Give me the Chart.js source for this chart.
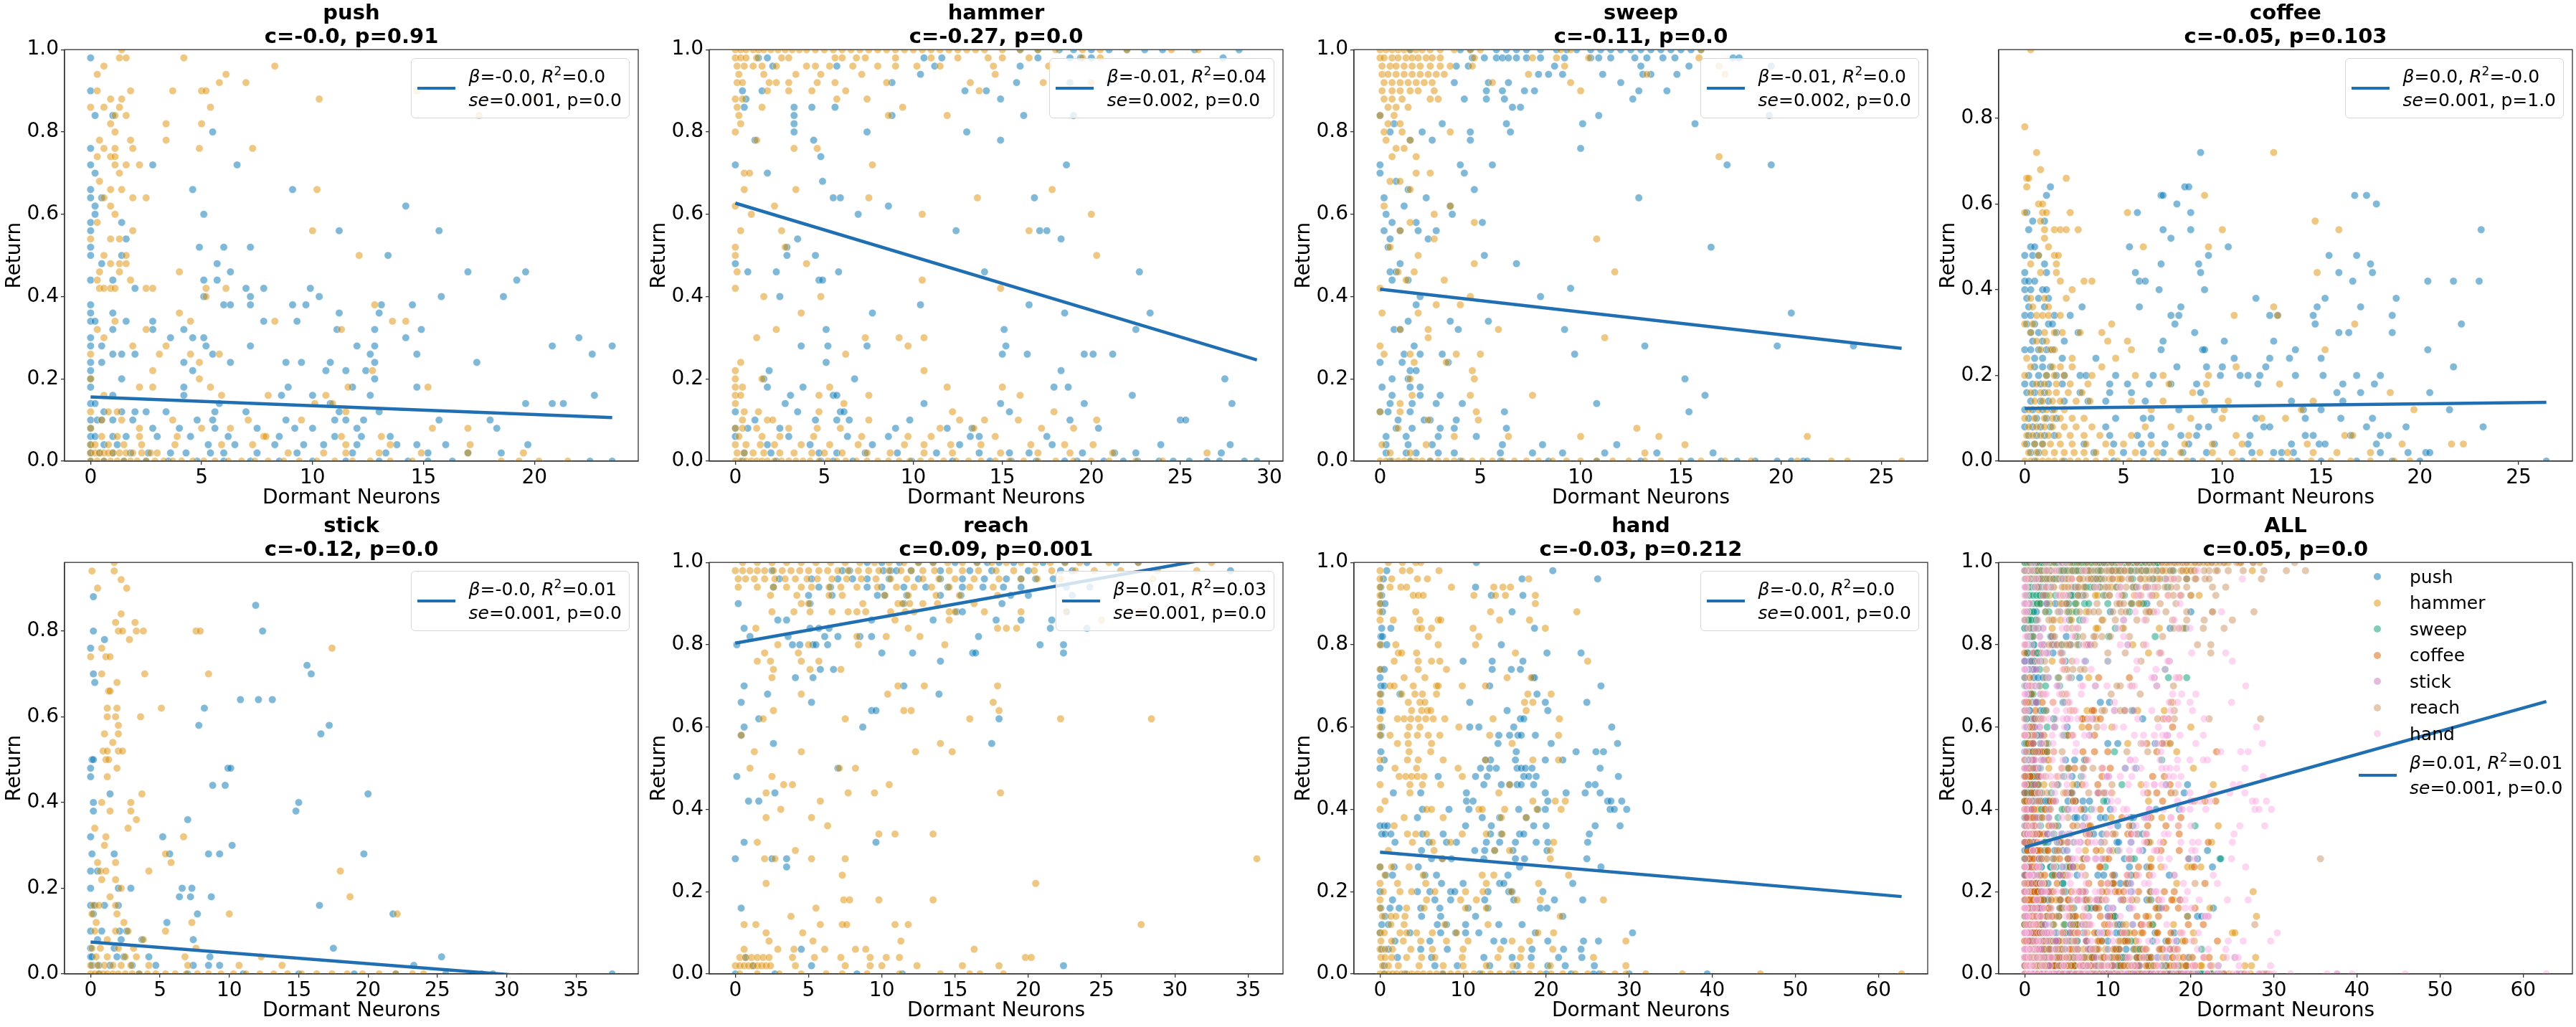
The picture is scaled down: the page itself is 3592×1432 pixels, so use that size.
<!DOCTYPE html>
<html>
<head>
<meta charset="utf-8">
<script src="https://cdn.jsdelivr.net/npm/chart.js@4.4.0/dist/chart.umd.min.js"></script>
<style>
  body { margin: 0; background: #fff; }
  #fig { position: relative; width: 3592px; height: 1432px; overflow: hidden; font-family: 'DejaVu Sans', sans-serif; }
  #fig canvas { position: absolute; }
  .lg { position: absolute; border: 1px solid #d6d6d6; border-radius: 6px; background: rgba(255,255,255,0.8);
        padding: 8px 10px 8px 8px; display: flex; align-items: center; font-size: 25px; line-height: 33px; color: #000; white-space: nowrap; }
  .sw { width: 53px; height: 4px; background: #1f6fb2; margin-right: 19px; }
  .lg sup, .all sup { font-size: 17px; line-height: 0; vertical-align: 10px; }
  .all { position: absolute; font-size: 25px; color: #000; white-space: nowrap; }
  .all .it { display: flex; align-items: center; height: 36.5px; }
  .all .hd { width: 54px; display: flex; justify-content: center; margin-right: 18px; }
  .all .dot { width: 10px; height: 10px; border-radius: 50%; }
  .all .st { display: flex; align-items: center; line-height: 35px; margin-top: 4px; }
</style>
</head>
<body>
<div id="fig"></div>
<script>
// rows: [return, dormant neurons, dormant neurons, ...]
const pushBlue = [
  [0.98, 0], [0.90, 0], [0.84, 0.2, 1.0], [0.80, 5.5], [0.76, 0], [0.72, 0, 2.8, 6.6], [0.70, 0.2],
  [0.66, 0, 4.6, 9.1], [0.64, 0, 0.5], [0.62, 0.2, 14.2], [0.60, 0.2, 5.1], [0.58, 0, 1.4],
  [0.56, 0, 11.2, 15.7], [0.54, 1.6], [0.52, 0, 4.9, 6.0, 7.2], [0.50, 0, 1.4, 13.4], [0.48, 0.5, 5.7],
  [0.46, 6.3, 17.0, 19.6], [0.44, 0, 1.0, 5.1, 5.7, 19.2], [0.42, 2.0, 7.0, 7.8, 9.9],
  [0.40, 5.1, 7.2, 10.3, 15.8, 18.6], [0.38, 0, 6.0, 6.3, 7.2, 9.1, 9.7, 13.1, 14.5],
  [0.36, 0, 1.0, 11.2, 13.0], [0.34, 0, 0.2, 1.6, 2.8, 7.8, 9.3], [0.32, 1.0, 2.8, 4.2, 11.1, 12.8, 14.9],
  [0.30, 0, 3.6, 4.6, 5.1, 14.2, 22.0], [0.28, 0, 0.5, 5.2, 7.2, 12.0, 12.8, 20.8, 23.5],
  [0.26, 1.0, 1.4, 2.0, 5.5, 12.6, 14.7, 22.6], [0.24, 0, 0.5, 4.2, 6.3, 8.8, 9.5, 10.8, 12.8, 17.4],
  [0.22, 0, 4.6, 10.6, 11.5, 12.4], [0.20, 0, 1.4, 12.8], [0.18, 0, 4.2, 8.9, 11.8, 14.7],
  [0.16, 1.0, 4.2, 8.6, 10.0, 12.6, 22.7], [0.14, 0, 0.2, 5.8, 10.8, 19.6, 20.8, 21.3],
  [0.12, 0.6, 1.4, 2.0, 2.5, 3.4, 5.6, 7.0, 11.2, 13.0],
  [0.10, 0, 0.3, 0.5, 1.0, 1.9, 4.8, 5.5, 8.8, 11.0, 11.5, 12.3, 15.7, 18.0],
  [0.08, 0, 2.8, 4.0, 5.6, 7.5, 9.2, 10.0, 12.0, 18.3],
  [0.06, 0, 0.2, 1.0, 1.6, 3.0, 4.5, 6.2, 8.5, 11.0, 12.2, 13.5],
  [0.04, 0, 0.6, 1.2, 5.3, 6.5, 8.3, 9.6, 10.5, 12.0, 13.8, 14.7, 16.0, 19.7],
  [0.02, 0, 0.4, 1.0, 1.8, 2.6, 3.6, 4.3, 5.4, 6.0, 7.5, 9.3, 11.8, 13.3, 15.2, 17.0, 18.5],
  [0.0, 0, 0.6, 1.5, 2.5, 3.5, 4.8, 6.0, 7.2, 8.5, 10.0, 11.5, 13.0, 14.3, 15.2, 16.3, 22.5, 23.5]
];
const pushOrange = [
  [1.0, 1.4], [0.98, 1.3, 1.6, 4.2], [0.96, 0.6, 8.3], [0.94, 0.3, 6.1], [0.92, 5.8, 7.0],
  [0.90, 0.3, 1.8, 3.7, 5.0, 5.2, 14.7], [0.88, 0.9, 1.4, 10.3, 20.0], [0.86, 0.0, 0.6, 1.3, 5.4],
  [0.84, 1.1, 1.6, 17.5], [0.82, 0.9, 3.4, 5.0], [0.80, 1.1], [0.78, 0.4, 1.8, 3.4],
  [0.76, 0.6, 1.1, 1.9, 4.9, 7.3], [0.74, 0.3, 0.9, 1.1], [0.72, 1.1, 1.6, 2.2], [0.70, 1.3], [0.68, 0.4],
  [0.66, 0.9, 1.4, 10.2], [0.64, 0.6, 1.9, 2.5], [0.62, 0.9], [0.60, 1.1], [0.58, 0.3], [0.56, 1.9, 10.0],
  [0.54, 0.0, 0.9, 1.3], [0.50, 0.6, 1.6, 12.1], [0.48, 0.9, 1.3, 1.6], [0.46, 0.4, 1.3, 4.0], [0.44, 0.3, 1.8],
  [0.42, 0.4, 0.6, 0.9, 1.1, 2.5, 2.8, 5.2, 6.1], [0.40, 5.2], [0.38, 12.8], [0.36, 4.0],
  [0.34, 1.1, 4.5, 8.3, 13.6, 14.2], [0.32, 0.3, 2.5, 11.3], [0.30, 0.6], [0.28, 1.9, 3.4],
  [0.26, 0.0, 3.1, 4.5, 5.8], [0.24, 4.9], [0.22, 2.8, 12.7], [0.20, 0.0, 4.9], [0.18, 2.2, 2.8, 5.4, 11.6, 15.2],
  [0.16, 0.6, 5.9, 8.0, 10.6], [0.14, 10.1, 10.9], [0.12, 0.0, 0.8, 1.2, 11.5], [0.10, 0.5, 1.4, 3.7, 7.1, 9.5],
  [0.08, 0.0, 2.2, 5.0, 6.3, 15.4, 17.0], [0.06, 0.5, 1.2, 2.2, 3.9, 7.8, 7.9, 11.3, 13.1],
  [0.04, 0.0, 0.2, 0.8, 1.5, 2.3, 3.8, 5.9, 7.3, 11.5, 13.5, 17.1],
  [0.02, 0.0, 0.2, 0.4, 0.6, 0.8, 1.0, 1.3, 1.6, 1.9, 2.3, 2.7, 3.0, 8.9, 10.5, 11.5, 13.0, 14.9, 17.0, 19.5],
  [0.0, 0, 0.3, 0.6, 0.9, 1.2, 1.5, 1.8, 2.1, 2.5, 2.9, 3.3, 3.7, 4.1, 4.6, 5.1, 5.6, 6.2, 6.8, 7.4, 8.0, 8.7, 9.4, 10.2, 11.0, 11.8, 12.6, 13.5, 14.5, 18.5, 19.3, 20.2, 21.5]
];
const hammerBlue = [
  [1.0, 16, 17, 18.2, 19, 20, 21, 22, 23, 24, 25.8, 28.3], [0.98, 1.3, 1.8, 10.6, 11.6, 17.0, 18.8, 19.4, 20.0, 27.4],
  [0.96, 2.1, 5.7, 11.2, 16.0], [0.94, 10.4], [0.92, 8.8, 15.8, 18.8, 21.0], [0.90, 0.4, 1.5, 12.9, 14.1],
  [0.88, 0.6, 14.9], [0.86, 0.5, 3.3, 4.3, 5.6], [0.84, 3.3, 8.8, 16.2, 19.0], [0.82, 3.3], [0.80, 3.3, 7.4, 13.0],
  [0.78, 1.1, 4.4, 14.9], [0.74, 4.8], [0.72, 0.0, 18.6], [0.70, 1.8], [0.68, 4.9], [0.64, 5.5, 5.9, 16.8],
  [0.62, 8.6], [0.60, 6.9], [0.56, 12.4, 17.1, 17.5], [0.54, 3.5, 18.3], [0.52, 2.9], [0.50, 2.9, 4.5], [0.48, 0.0],
  [0.46, 0.7, 2.3, 5.8, 14.0, 22.7], [0.44, 4.7, 4.9], [0.40, 2.5], [0.38, 10.4, 16.5], [0.36, 7.7, 18.5, 23.3],
  [0.32, 5.1, 15.1, 22.5], [0.28, 3.7, 5.2, 7.4, 15.2], [0.26, 15.0, 16.4, 19.6, 20.1, 21.2], [0.24, 5.1],
  [0.22, 1.9, 18.3], [0.20, 1.6, 6.7, 27.5], [0.18, 1.8, 3.8, 17.9, 18.7], [0.16, 3.1, 5.5, 5.7, 22.3],
  [0.14, 2.8, 10.6, 14.9, 19.6, 27.9], [0.12, 0.0, 3.5, 5.9, 6.1, 15.4], [0.10, 1.1, 4.5, 5.7, 6.4, 9.8, 18.8, 25.0, 25.3],
  [0.08, 0.0, 0.7, 2.5, 9.0, 11.9, 13.3, 20.4], [0.06, 0.0, 3.0, 6.3, 8.6, 13.2, 13.7, 17.5],
  [0.04, 1.8, 4.2, 7.7, 12.6, 17.8, 23.9, 27.8],
  [0.02, 0.5, 2.0, 4.7, 5.7, 7.3, 9.1, 11.3, 13.7, 15.4, 16.5, 19.5, 21.3, 22.5, 27.3],
  [0.0, 0.4, 2.3, 4.8, 5.5, 6.6, 9.9, 12.2, 14.3, 15.5, 16.9, 18.5, 19.2, 20.7, 21.8, 22.6, 23.8, 24.6, 25.5, 26.5, 27.2, 28.6, 29.3]
];
const hammerOrange = [
  [1.0, 0, 0.3, 0.6, 1, 1.3, 1.6, 2, 2.4, 2.8, 3.2, 3.6, 4, 4.5, 5, 5.5, 6, 6.5, 7, 7.5, 8, 8.5, 9, 9.5, 10, 10.5, 11, 11.5, 12, 12.5, 13, 13.5, 14, 15, 16, 17, 18, 19.5, 20.5, 22, 24.5, 26],
  [0.98, 0, 0.3, 0.6, 1.2, 2.6, 3, 5.6, 6, 6.8, 7.3, 9, 11, 12.5, 14.2, 15, 16.5, 19.5, 20.5],
  [0.96, 0.1, 0.5, 1, 1.5, 2.3, 4, 4.5, 5.3, 6.6, 8, 9, 10.2, 11.5, 14.5, 17.6],
  [0.94, 0.2, 1.6, 3.4, 4.8, 7.1, 14.6], [0.92, 0.1, 0.4, 1.9, 2.3, 3, 4.6, 5.6, 8.5, 13.2, 17.3, 20.0],
  [0.90, 1.8, 3.0, 4.3, 6.2, 13.7], [0.88, 0, 0.4, 5.7, 7.4], [0.86, 0.1, 1.5, 9.4], [0.84, 0.2, 8.6, 11.9],
  [0.82, 0.3], [0.80, 0.0], [0.78, 1.2], [0.76, 3.3, 4.6], [0.72, 7.7], [0.70, 0.5, 0.8], [0.66, 0.5, 3.4, 17.8],
  [0.64, 7.5, 13.6], [0.62, 0.0, 2.2], [0.60, 0.9, 10.5, 20.0], [0.56, 0.3, 2.6, 16.5], [0.52, 0.0, 2.8],
  [0.50, 0.0, 20.3], [0.48, 4.0], [0.46, 0.1], [0.44, 10.5], [0.42, 0.0, 14.9], [0.40, 1.6, 4.8], [0.36, 3.7],
  [0.32, 2.3], [0.30, 1.2, 7.3, 9.2, 10.6], [0.28, 9.7], [0.26, 6.2], [0.24, 0.3], [0.22, 0.0, 10.6], [0.20, 0.0, 1.5],
  [0.18, 0.0, 0.4, 5.3, 11.9, 15.0], [0.16, 0.0, 0.3, 4.7, 7.5, 16.0], [0.14, 0.0, 6.1], [0.12, 0.5, 1.3, 4.7, 12.2, 17.9],
  [0.10, 0.4, 1.8, 2.1, 7.5, 12.6, 14.0, 15.9, 20.3], [0.08, 0.0, 0.4, 1.2, 3.0, 4.6, 5.9, 11.5, 13.4, 17.2, 19.0],
  [0.06, 0.2, 1.5, 2.5, 4.4, 7.1, 9.7, 11.0, 14.6],
  [0.04, 0.0, 0.6, 1.4, 2.2, 3.7, 5.3, 6.9, 9.5, 10.6, 12.1, 13.8, 16.6, 18.5, 20.1],
  [0.02, 0.1, 0.5, 1.0, 1.6, 2.5, 3.3, 4.3, 5.0, 6.0, 7.4, 8.7, 10.6, 12.2, 14.9, 17.0, 18.8, 21.2, 26.5],
  [0.0, 0.0, 0.3, 0.6, 0.9, 1.2, 1.5, 1.8, 2.2, 2.6, 3.0, 3.4, 3.8, 4.2, 4.7, 5.2, 5.7, 6.2, 6.8, 7.4, 8.0, 8.6, 9.2, 9.8, 10.4, 11.0, 11.7, 12.4, 13.1, 13.8, 14.6, 15.4, 16.2, 17.0, 18.0, 19.0, 20.0, 21.0, 22.5, 24.0]
];
const sweepBlue = [
  [1.0, 1.5, 4.0, 4.5, 5.8, 6.3, 6.8, 7.3, 8.0, 8.8, 9.3, 9.8, 10.5, 11.0, 11.5, 12.0, 12.5, 13.0, 13.5, 14.0, 14.5, 15.0, 15.5, 16.0],
  [0.98, 4.6, 5.2, 5.8, 6.1, 6.4, 6.8, 7.3, 8.0, 9.2, 10.5, 10.9, 11.5, 12.7, 13.3, 14.1, 14.7, 17.6, 17.9],
  [0.96, 3.8, 4.4, 8.7, 13.0, 15.4, 19.5], [0.94, 7.9, 8.4, 9.1, 11.1, 13.1, 13.5, 14.8], [0.92, 3.7, 5.4, 6.4, 12.0],
  [0.90, 5.3, 6.1, 7.2, 7.7, 12.9, 14.3], [0.88, 4.2, 5.3, 6.2, 12.6], [0.86, 6.6, 7.0], [0.84, 0.0, 10.9, 19.4],
  [0.82, 0.7, 3.1, 6.3, 10.1, 15.7], [0.80, 0.5, 2.1, 4.5, 6.5], [0.78, 1.5, 2.6, 4.5], [0.76, 10.0],
  [0.72, 0.0, 4.0, 5.6, 17.3, 19.5], [0.70, 0.0, 4.2], [0.68, 0.8], [0.66, 1.4, 4.7], [0.64, 0.2, 2.3, 12.9],
  [0.62, 1.2, 3.5], [0.60, 0.3, 3.6], [0.58, 0.6, 1.8, 5.1], [0.56, 0.2, 1.0, 1.9, 2.8], [0.54, 0.5, 2.4],
  [0.52, 0.4, 16.5], [0.50, 5.2], [0.48, 1.0, 6.8], [0.46, 0.5, 0.8], [0.44, 0.6, 1.4], [0.42, 9.5], [0.40, 2.0, 8.0],
  [0.38, 1.8], [0.36, 20.5], [0.34, 1.4, 3.5, 5.4], [0.32, 0.7, 1.0, 3.9, 9.2], [0.28, 1.7, 13.2, 19.8, 23.6],
  [0.26, 1.2, 2.0, 3.1, 9.7], [0.24, 0.0, 1.1, 3.4], [0.22, 1.5, 1.8], [0.20, 0.6, 1.4, 15.2], [0.18, 0.1, 1.5, 2.0],
  [0.16, 0.6, 2.0, 3.0, 16.2], [0.14, 0.5, 1.6, 2.8, 4.1, 10.8], [0.12, 0.0, 0.4, 1.5, 6.2, 15.4],
  [0.10, 0.9, 2.2, 2.5, 3.8], [0.08, 0.8, 1.6, 3.0, 3.7, 6.3], [0.06, 0.3, 1.3, 2.9, 4.8],
  [0.04, 0.3, 1.4, 2.6, 6.1, 8.1, 11.8], [0.02, 0.3, 1.3, 1.8, 2.9, 3.7, 6.0, 7.6, 9.1, 11.2, 13.8, 16.6],
  [0.0, 0.5, 1.5, 2.5, 4.0, 6.0, 8.4, 10.8, 13.0, 15.5, 17.0, 17.8, 18.7, 19.8, 20.5, 21.1, 21.3]
];
const sweepOrange = [
  [1.0, 0, 0.3, 0.6, 0.9, 1.2, 1.5, 1.8, 2.1, 2.5, 3.0, 3.7, 4.5, 5.0, 9.0, 9.5, 16.0],
  [0.98, 0, 0.2, 0.6, 0.9, 1.3, 1.6, 1.9, 2.3, 2.6, 3.0, 4.7, 7.6, 8.8, 10.4, 15.9],
  [0.96, 0.1, 0.5, 0.8, 1.2, 1.6, 2.0, 2.5, 3.0, 3.5, 4.6, 9.2, 16.9],
  [0.94, 0.1, 0.4, 0.8, 1.2, 1.6, 2.0, 2.4, 2.8, 3.2, 7.4, 13.3, 17.2],
  [0.92, 0.2, 0.6, 1.0, 1.4, 1.8, 2.2, 2.6, 5.6, 9.5], [0.90, 0.1, 0.6, 1.0, 1.5, 1.9, 2.7, 10.0],
  [0.88, 0.2, 0.6, 1.1, 2.5, 2.9], [0.86, 0.4, 0.8, 1.4], [0.84, 0.0, 0.7], [0.82, 0.4, 1.0], [0.80, 0.2, 1.1, 3.5],
  [0.78, 0.3, 1.5], [0.76, 0.8, 1.2], [0.74, 0.6, 1.8, 16.9], [0.70, 1.8, 2.5], [0.68, 0.5, 1.0], [0.66, 1.5],
  [0.62, 0.2, 3.5], [0.60, 2.7], [0.58, 1.5, 4.7], [0.56, 1.0], [0.54, 2.7, 10.8], [0.52, 0.5], [0.50, 1.9],
  [0.48, 4.7], [0.46, 0.9, 1.7, 11.7], [0.44, 1.3, 3.2], [0.42, 0.0], [0.40, 4.5], [0.38, 2.8, 4.0], [0.36, 0.1, 1.9],
  [0.32, 1.0, 2.4, 5.9], [0.30, 2.4, 11.2], [0.28, 0.0], [0.26, 0.2, 1.5, 3.8, 5.0], [0.24, 1.7, 3.3], [0.22, 4.6],
  [0.20, 1.5, 4.7], [0.16, 1.6, 4.5, 7.6], [0.14, 1.0], [0.12, 0.0, 1.0, 4.8], [0.10, 2.4, 4.9], [0.08, 0.9, 12.8],
  [0.06, 3.7, 6.4, 10.0, 13.9, 21.3], [0.04, 0.1, 2.3, 15.2], [0.02, 0.5, 1.5, 13.2],
  [0.0, 0, 0.3, 0.6, 0.9, 1.2, 1.5, 1.8, 2.1, 2.5, 2.9, 3.3, 3.7, 4.1, 4.6, 5.1, 5.6, 6.1, 6.7, 7.3, 7.9, 8.6, 9.3, 10.0, 10.8, 11.6, 12.4, 13.2, 14.0, 15.0, 16.0, 17.2, 18.5, 20.8, 22.5, 23.3, 26.0]
];
const coffeeBlue = [
  [0.72, 8.9], [0.64, 1.3, 8.1, 8.3], [0.62, 1.1, 6.9, 7.0, 16.7, 17.3], [0.60, 7.7, 17.8], [0.58, 0.1, 5.7, 8.4],
  [0.56, 0.4, 1.0], [0.54, 0.2, 7.0, 8.4, 23.1], [0.52, 7.4], [0.50, 0.3, 0.5, 5.3, 10.3],
  [0.48, 0.0, 0.4, 0.7, 9.3, 15.4, 16.8], [0.46, 1.0, 6.9, 8.8, 17.5], [0.44, 0.0, 1.1, 5.6, 8.9, 15.9, 17.6],
  [0.42, 0.0, 0.2, 0.5, 5.8, 6.1, 16.6, 20.4, 21.7, 23.0], [0.40, 0.0, 0.3, 0.9, 1.1, 6.8, 9.1],
  [0.38, 0.1, 0.7, 1.2, 11.7, 15.2, 18.8], [0.36, 0.2, 1.0, 2.9, 5.8, 7.9, 14.8, 17.0],
  [0.34, 0.0, 0.3, 1.5, 2.3, 7.4, 7.8, 12.4, 12.8, 14.6, 18.6], [0.32, 0.1, 0.5, 1.2, 1.4, 7.6, 14.7, 22.1],
  [0.30, 0.3, 0.7, 1.6, 2.7, 8.6, 15.9, 16.4, 18.6], [0.28, 0.4, 0.9, 2.0, 7.0, 10.1, 12.6],
  [0.26, 0.0, 0.3, 0.7, 1.1, 1.4, 6.9, 9.0, 9.1, 13.7, 20.4], [0.24, 0.5, 0.9, 1.9, 3.6, 10.6, 12.4, 13.4, 15.0],
  [0.22, 0.5, 0.9, 1.3, 7.7, 9.2, 10.0, 12.2, 21.7],
  [0.20, 0.2, 0.7, 1.1, 1.6, 2.0, 2.8, 3.1, 4.6, 6.5, 9.9, 10.9, 11.3, 11.9, 13.7, 15.1, 16.8, 18.0],
  [0.18, 0.0, 0.4, 0.8, 1.2, 1.9, 4.3, 5.2, 6.3, 7.4, 8.7, 11.8, 16.1, 17.7],
  [0.16, 0.1, 0.5, 1.0, 2.8, 4.3, 5.4, 8.9, 15.8, 17.0, 20.5], [0.14, 0.3, 0.8, 1.2, 2.0, 3.2, 4.1, 6.1, 13.5, 16.1],
  [0.12, 0.0, 0.4, 0.9, 1.4, 7.8, 9.6, 14.1, 15.0, 21.5], [0.10, 0.2, 0.6, 1.1, 1.6, 4.6, 6.0, 6.4, 11.7, 14.2, 16.0, 17.6],
  [0.08, 0.0, 0.4, 0.8, 1.3, 4.1, 8.8, 9.3, 12.1, 12.4, 17.3, 19.3, 23.2],
  [0.06, 0.2, 0.6, 1.0, 1.5, 4.3, 5.7, 6.4, 7.9, 8.7, 11.4, 14.2, 14.6, 16.5, 18.0, 18.4],
  [0.04, 0.1, 0.5, 0.9, 3.0, 4.5, 5.9, 7.1, 8.3, 9.6, 11.3, 13.5, 14.9, 15.2, 17.8],
  [0.02, 0.3, 0.7, 3.5, 5.0, 6.0, 7.0, 8.0, 9.2, 11.5, 12.6, 13.0, 13.6, 18.0, 19.4, 20.3, 20.5],
  [0.0, 0.5, 2.0, 4.5, 6.5, 8.5, 11.0, 13.0, 13.8, 15.0, 16.8, 18.6, 20.0, 26.4]
];
const coffeeOrange = [
  [0.96, 0.3], [0.78, 0.0], [0.72, 0.6, 12.6], [0.68, 0.8], [0.66, 0.1, 0.2, 2.1], [0.64, 0.1], [0.62, 9.1],
  [0.60, 0.7, 0.9], [0.58, 0.0, 0.9, 1.1, 2.3, 5.2], [0.56, 0.8, 14.7], [0.54, 1.0, 1.5, 1.8, 2.1, 2.7, 10.0, 15.9],
  [0.52, 1.0], [0.50, 1.2, 6.0, 9.3], [0.48, 0.7, 1.5, 1.7], [0.46, 0.3, 1.6], [0.44, 0.8, 1.6, 14.8],
  [0.42, 1.8, 3.0, 3.4], [0.40, 2.4], [0.38, 0.3, 1.0, 2.1], [0.36, 0.4, 1.2, 12.6], [0.34, 0.6, 0.9, 1.2, 1.8, 10.6, 12.8],
  [0.32, 0.0, 0.4, 4.4, 16.7], [0.30, 0.3, 1.0, 1.5, 1.9, 2.8, 3.9], [0.28, 0.6, 1.1, 4.2, 5.2],
  [0.26, 0.8, 1.3, 1.5, 5.4, 15.2], [0.24, 0.1, 2.4, 4.6], [0.22, 0.3, 1.4, 1.8, 2.4, 3.9, 10.7],
  [0.20, 0.0, 1.1, 1.5, 2.0, 3.4, 5.6, 7.0, 9.3], [0.18, 0.6, 1.0, 1.6, 2.3, 3.2, 7.3, 9.2, 12.9],
  [0.16, 0.3, 0.8, 1.2, 1.6, 2.2, 2.9, 8.5, 18.5], [0.14, 0.5, 0.9, 1.4, 1.8, 2.6, 3.3, 5.4, 7.0, 9.1, 10.3, 14.6],
  [0.12, 0.2, 0.7, 1.1, 1.5, 2.0, 6.4, 10.1, 14.0, 19.7], [0.10, 0.0, 0.5, 1.0, 1.4, 1.8, 2.4, 3.0, 8.4, 10.0, 12.0, 13.2],
  [0.08, 0.2, 0.6, 1.0, 1.4, 2.0, 2.6, 3.4, 6.1, 7.4],
  [0.06, 0.1, 0.4, 0.8, 1.2, 1.7, 2.3, 3.0, 3.8, 5.4, 8.3, 10.7, 16.2, 16.6],
  [0.04, 0.0, 0.5, 0.9, 1.3, 1.8, 2.4, 3.1, 4.1, 5.0, 6.4, 8.1, 9.5, 11.0, 14.3, 19.1, 21.6, 22.2],
  [0.02, 0.2, 0.6, 1.0, 1.5, 2.0, 2.5, 3.0, 3.6, 4.4, 5.6, 6.7, 7.9, 9.5, 10.5, 11.9, 13.3, 14.6, 15.8, 17.5],
  [0.0, 0, 0.3, 0.6, 0.9, 1.2, 1.5, 1.9, 2.3, 2.7, 3.1, 3.6, 4.1, 4.7, 5.3, 6.0, 6.7, 7.4, 8.2, 9.0, 9.8, 10.7, 11.6, 12.5, 13.5, 14.5, 15.5, 16.5, 17.5, 18.7, 19.5]
];
const stickBlue = [
  [0.88, 0.2], [0.86, 11.9], [0.80, 0.2, 12.4], [0.78, 1.0], [0.76, 0.0], [0.72, 15.6], [0.70, 0.2, 15.9], [0.68, 0.3],
  [0.64, 10.8, 12.1, 13.1], [0.62, 8.2], [0.58, 7.8, 17.2], [0.56, 16.6], [0.50, 0.1, 0.2], [0.48, 0.0, 9.9, 10.1],
  [0.46, 0.0], [0.44, 8.8, 9.7], [0.42, 1.4, 20.0], [0.40, 0.2, 15.0], [0.38, 0.2, 14.8], [0.36, 7.0], [0.32, 0.0, 5.2],
  [0.30, 10.2], [0.28, 0.1, 1.7, 5.7, 8.5, 9.3, 19.7], [0.24, 0.0, 0.5], [0.20, 0.0, 2.0, 2.9, 6.6, 7.3],
  [0.18, 6.4, 7.2, 8.7], [0.16, 0.0, 0.3, 1.0, 2.0, 16.5], [0.14, 0.2, 7.7, 21.8], [0.12, 5.5], [0.10, 0.0, 0.8, 2.1, 2.6],
  [0.08, 0.5, 2.2, 3.7, 7.4], [0.06, 0.0, 1.7, 17.5], [0.04, 0.0, 0.1, 1.9, 2.4, 4.2, 8.6, 25.3],
  [0.02, 0.1, 0.6, 1.4, 3.0, 4.7, 7.4, 8.5, 9.3, 23.3], [0.0, 0.6, 3.5, 7.0, 11.0, 15.0, 19.0, 22.0, 25.6, 28.2, 29.0, 37.6]
];
const stickOrange = [
  [0.96, 1.7], [0.94, 0.1, 1.7], [0.92, 2.2], [0.90, 0.5, 2.6], [0.84, 2.2], [0.82, 1.8, 3.2],
  [0.80, 2.0, 2.3, 3.3, 3.8, 7.6, 7.9], [0.78, 2.8], [0.76, 0.8, 17.4], [0.74, 0.0, 1.1, 1.4], [0.70, 0.8, 3.9, 8.5],
  [0.68, 1.9], [0.66, 1.3, 1.4], [0.62, 1.2, 1.9, 5.1], [0.60, 1.2, 1.8, 3.6], [0.58, 2.0], [0.56, 1.0, 2.0], [0.54, 1.6],
  [0.52, 0.9, 1.2, 2.0, 2.3], [0.50, 1.1, 1.3], [0.48, 1.9], [0.46, 1.2], [0.42, 3.7], [0.40, 0.8, 2.9], [0.38, 1.4, 2.9],
  [0.36, 3.3], [0.34, 0.3, 2.7], [0.32, 1.1, 6.7], [0.30, 1.0], [0.28, 5.4], [0.26, 0.5, 1.8, 5.8],
  [0.24, 0.7, 1.1, 4.2, 18.0], [0.22, 0.8, 1.8], [0.20, 2.2], [0.18, 1.4, 18.7], [0.16, 0.2, 0.6, 1.8],
  [0.14, 0.1, 1.9, 10.0, 22.1], [0.12, 0.4, 2.4, 7.3], [0.10, 0.3, 1.8, 2.7, 5.4], [0.08, 1.2, 3.8],
  [0.06, 0.1, 0.7, 2.0, 3.1, 7.6], [0.04, 0.4, 1.2, 2.5, 3.3, 6.8, 12.3],
  [0.02, 0.0, 0.5, 1.0, 1.6, 2.2, 2.9, 4.2, 7.0, 10.7, 13.8],
  [0.0, 0, 0.3, 0.6, 0.9, 1.2, 1.6, 2.0, 2.5, 3.0, 3.5, 4.1, 4.7, 5.4, 6.1, 6.9, 7.7, 8.5, 9.4, 10.3, 11.2, 12.2, 13.2, 14.2, 15.2, 16.3, 17.4, 18.5, 19.6, 20.8, 22.0, 23.2, 24.0]
];
const reachBlue = [
  [1.0, 9.0, 10.0, 11.2, 12.5, 13.5, 15.0, 16.5, 17.2, 18.0, 19.0, 21.0, 22.5, 24.0, 26.0, 27.5],
  [0.98, 2.5, 7.3, 7.8, 10.1, 10.6, 11.0, 12.0, 14.0, 16.0, 17.5, 20.0, 22.2, 23.0, 33.8],
  [0.96, 3.0, 5.2, 7.0, 8.0, 9.0, 10.5, 12.5, 14.0, 15.5, 17.0, 18.5, 19.5, 20.5, 21.7],
  [0.94, 2.6, 5.7, 6.5, 9.0, 10.0, 11.5, 13.0, 14.5, 15.5, 16.9, 18.3, 19.5, 22.6, 24.2],
  [0.92, 5.0, 6.6, 9.7, 10.2, 11.7, 14.0, 15.4, 18.8, 20.0, 23.0], [0.90, 0.2, 5.1, 11.5, 18.2], [0.88, 15.1, 15.5, 22.6],
  [0.86, 2.9, 3.5, 9.3, 13.5, 17.8, 19.5, 21.6], [0.84, 0.6, 5.1, 5.7, 6.4, 21.5, 24.0],
  [0.82, 1.0, 3.6, 6.1, 7.0, 8.5, 9.3, 16.6], [0.80, 0.1, 3.9, 4.4, 5.3, 5.5, 6.3, 20.8, 22.4],
  [0.78, 10.0, 12.1, 16.2, 16.4, 22.4], [0.76, 14.0], [0.74, 5.8, 6.7], [0.72, 4.1, 5.3], [0.70, 0.6, 11.5],
  [0.68, 2.2, 13.9], [0.66, 0.4, 5.2], [0.64, 9.3, 9.6], [0.62, 1.6, 18.0], [0.60, 0.6, 8.7], [0.58, 0.4],
  [0.56, 2.6, 17.5], [0.50, 7.0], [0.48, 0.1], [0.44, 2.7], [0.42, 0.9, 1.6], [0.32, 0.6, 9.6], [0.28, 0.0, 2.5, 3.5],
  [0.26, 3.5], [0.16, 0.4], [0.06, 4.5], [0.04, 0.7], [0.02, 1.2, 5.2, 22.4], [0.0, 0.0, 2.7, 8.3, 11.4]
];
const reachOrange = [
  [1.0, 0.5, 1.5, 2.5, 3.5, 4.5, 5.5, 6.5, 7.5, 8.5, 9.5, 10.5, 11.5, 12.5, 13.5, 14.5, 15.5, 16.5, 17.5, 18.5, 19.5, 20.5, 21.5, 22.5, 23.5, 25.5, 27.5, 32.5],
  [0.98, 0.0, 0.5, 1.0, 1.5, 2.0, 2.6, 3.2, 3.8, 4.4, 5.0, 5.7, 6.3, 7.0, 7.7, 8.4, 9.1, 9.8, 10.5, 11.3, 12.0, 12.8, 13.6, 14.6, 15.5, 16.6, 17.8, 19.0, 20.4, 21.6, 23.2, 24.5, 26.3, 28.8, 31.5],
  [0.96, 0.2, 0.7, 1.3, 2.0, 2.7, 3.4, 4.1, 4.9, 5.6, 6.6, 7.6, 8.6, 9.6, 10.6, 11.7, 12.8, 13.9, 15.0, 16.3, 18.0, 19.5, 20.6, 22.2, 28.5],
  [0.94, 0.2, 1.5, 2.6, 3.5, 4.5, 5.2, 6.4, 7.2, 8.3, 9.7, 11.0, 12.2, 13.4, 14.6, 16.0, 17.6],
  [0.92, 2.4, 4.2, 6.4, 7.3, 10.2, 11.8, 13.7, 15.3, 17.9], [0.90, 4.5, 5.0, 8.7, 11.1, 11.4, 11.9, 12.8, 13.8, 16.3],
  [0.88, 2.5, 4.0, 5.1, 6.6, 7.7, 8.3, 8.9, 10.6, 11.6, 12.2, 14.6, 15.0, 17.0, 19.5, 22.6, 27.6],
  [0.86, 10.9, 14.6, 25.0], [0.84, 1.4, 11.8, 17.9, 18.5, 19.2], [0.82, 8.3, 10.3, 12.6], [0.80, 2.9, 5.0, 8.4, 14.3],
  [0.78, 2.0, 4.3], [0.76, 1.5, 2.4, 4.5, 5.7], [0.74, 2.6, 5.1, 7.2], [0.72, 2.5], [0.70, 11.1, 12.9, 17.9],
  [0.68, 4.5, 10.4], [0.66, 17.6], [0.64, 2.6, 11.5, 12.0, 18.0], [0.62, 1.9, 7.5, 16.0, 22.2, 28.4], [0.58, 0.4],
  [0.56, 14.0], [0.54, 1.3, 4.5, 12.3, 14.8], [0.50, 1.0, 7.1, 8.2], [0.48, 2.5], [0.46, 3.3, 3.9, 10.5],
  [0.44, 2.1, 7.7, 9.5, 18.1], [0.42, 5.8], [0.40, 3.1], [0.38, 2.1, 5.2], [0.36, 6.3], [0.34, 9.8, 10.9, 13.5],
  [0.32, 1.5], [0.30, 4.1], [0.28, 2.0, 2.7, 5.2, 7.5, 35.6], [0.24, 7.3], [0.22, 2.1, 20.5], [0.18, 7.4, 7.8, 9.8, 13.5],
  [0.16, 5.5], [0.14, 3.8], [0.12, 0.6, 1.4, 5.8, 7.3, 7.6, 10.9, 11.8, 27.7], [0.10, 2.1, 4.6], [0.08, 2.3, 5.3, 11.3],
  [0.06, 0.6, 2.9, 4.0, 6.1, 8.2, 8.9, 16.3], [0.04, 0.3, 0.7, 1.1, 1.5, 1.9, 2.3, 3.9, 5.4, 7.2, 9.2, 10.3, 11.2, 19.8, 20.2],
  [0.02, 0.0, 0.3, 0.6, 0.9, 1.2, 1.5, 1.8, 2.1, 2.4, 4.1, 7.5, 9.2, 10.0, 12.4, 15.5, 18.0],
  [0.0, 0.3, 1.5, 3.0, 4.5, 6.2, 7.3, 9.0, 11.2, 14.0, 16.0, 16.7, 18.3]
];
const handBlue = [
  [1.0, 11.6], [0.98, 0.8, 20.8], [0.96, 0.4, 17.1, 26.2], [0.94, 0.1, 11.5], [0.92, 0.2, 13.4, 17.2], [0.90, 0.1, 0.6],
  [0.88, 0.3, 15.9], [0.84, 0.2, 1.3, 18.6], [0.82, 0.1, 0.3], [0.80, 0.1, 0.8, 14.6], [0.78, 20.1, 24.2],
  [0.76, 10.0, 13.5, 17.2], [0.74, 0.1, 0.5, 13.5, 15.8, 16.9], [0.72, 0.0, 18.4, 18.6], [0.70, 0.1, 0.5, 13.2, 26.6],
  [0.68, 0.1, 2.4, 18.9], [0.66, 10.8, 19.9, 24.9], [0.64, 0.0, 0.3, 15.3, 20.2], [0.62, 16.9, 17.3],
  [0.60, 0.2, 10.8, 11.9, 16.1, 27.9], [0.58, 0.1, 14.3, 15.6, 16.6, 17.0, 18.7], [0.56, 14.2, 20.6, 28.6],
  [0.54, 0.1, 16.4, 23.6, 26.0, 26.9], [0.52, 0.5, 12.7, 13.3, 16.3, 19.9, 22.0],
  [0.50, 0.0, 12.1, 13.2, 14.0, 16.5, 17.0, 17.5, 18.3, 26.5], [0.48, 7.0, 11.5, 12.9, 17.3, 17.9, 18.8, 28.7],
  [0.46, 12.5, 14.6, 15.6, 16.5, 17.0, 18.5, 25.1, 25.9], [0.44, 1.6, 4.9, 10.4, 19.9, 22.4, 24.7, 26.5],
  [0.42, 10.4, 11.2, 20.2, 27.4, 27.8, 29.1], [0.40, 5.1, 8.3, 10.7, 16.7, 19.0, 19.9, 27.7, 28.2, 29.7],
  [0.38, 4.5, 12.3, 14.4, 17.6], [0.36, 0.0, 0.5, 0.9, 10.3, 13.4, 18.5, 20.0, 25.9, 28.9],
  [0.34, 0.2, 0.6, 1.3, 5.1, 7.6, 13.3, 14.6, 16.8, 17.3, 25.2], [0.32, 1.8, 5.9, 8.0, 9.2, 12.8, 14.4, 16.3, 18.8, 20.2, 25.0],
  [0.30, 5.0, 11.4, 12.6, 13.8, 16.0, 20.1], [0.28, 6.2, 7.5, 8.6, 12.5, 16.3, 17.4, 24.9], [0.26, 0.0, 1.7, 4.6, 16.8, 26.6],
  [0.24, 0.7, 1.5, 5.4, 6.8, 15.4], [0.22, 7.4, 10.0, 14.4, 14.9, 23.2], [0.20, 0.0, 4.5, 6.0, 8.5, 9.0, 13.0, 15.5, 15.9, 19.6],
  [0.18, 1.5, 6.6, 8.5, 12.6, 16.1, 21.0, 24.4], [0.16, 0.1, 1.2, 2.3, 4.9, 7.2, 10.6, 13.0, 19.3, 20.1],
  [0.14, 0.6, 5.0, 7.3, 11.5, 22.0], [0.12, 0.2, 1.0, 6.9, 8.0, 10.3, 14.3, 17.1], [0.10, 0.0, 3.6, 7.3, 9.1, 10.3, 11.9, 18.7, 30.4],
  [0.08, 1.8, 6.0, 13.7, 14.9, 20.2, 24.5, 26.3], [0.06, 0.2, 1.0, 4.9, 8.1, 18.3, 22.1, 24.2],
  [0.04, 2.1, 6.2, 12.5, 15.9, 18.2, 21.5, 24.3], [0.02, 0.5, 6.6, 9.3, 13.2, 16.5, 20.2, 22.3, 25.8],
  [0.0, 0.5, 3.0, 7.5, 12.0, 16.0, 20.0, 23.0, 25.7, 26.4, 30.0, 39.4]
];
const handOrange = [
  [1.0, 1.0, 2.7, 4.3, 4.9], [0.98, 0.0, 2.7, 3.6, 7.1], [0.96, 0.0, 1.4, 4.5, 5.7, 17.9],
  [0.94, 0.0, 1.2, 2.5, 3.2, 8.6, 13.7, 14.8, 15.7], [0.92, 0.0, 4.0, 4.6, 5.2, 11.3, 13.9, 15.1, 18.7], [0.90, 0.0, 18.7],
  [0.88, 0.0, 4.3, 13.3, 23.7], [0.86, 0.0, 1.6, 4.8, 7.0, 7.3, 14.4, 18.0], [0.84, 4.5, 5.0, 6.2, 11.2, 19.9],
  [0.82, 5.8, 11.9], [0.80, 0.0, 1.9, 7.0, 11.5], [0.78, 2.2, 2.6, 4.4, 16.3], [0.76, 1.7, 4.6, 6.2, 7.2, 25.0],
  [0.74, 0.0, 4.6, 8.0], [0.72, 2.9, 5.4, 15.3, 18.2], [0.70, 1.2, 1.7, 4.0, 6.8, 7.0, 9.9, 12.7],
  [0.68, 0.0, 2.6, 4.2, 5.1, 6.8, 17.8, 20.6], [0.66, 0.0, 3.4, 4.8, 5.4, 17.4, 18.4], [0.64, 3.8, 5.0, 5.7, 6.1, 17.6],
  [0.62, 0.0, 2.1, 2.9, 3.7, 4.6, 5.5, 6.4, 7.8, 13.6, 21.6], [0.60, 0.0, 3.5, 4.8, 9.5],
  [0.58, 0.0, 1.2, 3.3, 4.5, 5.8, 7.2, 13.2, 21.5], [0.56, 2.1, 3.4, 6.2, 15.9], [0.54, 3.5, 6.1],
  [0.52, 0.0, 3.3, 4.6, 7.6, 12.7, 18.4, 21.5], [0.50, 1.8, 4.4, 9.4], [0.48, 2.3, 3.1, 3.8, 4.5, 5.3, 9.9],
  [0.46, 0.0, 3.6, 5.1, 7.3, 15.6], [0.44, 3.6, 14.3], [0.42, 0.6, 18.4, 21.1, 22.3],
  [0.40, 0.0, 5.6, 6.2, 11.9, 12.3, 15.0, 18.9, 21.8], [0.38, 2.9, 7.6, 14.6, 17.6], [0.36, 1.7],
  [0.34, 3.3, 4.3, 5.6, 9.9, 12.8, 14.7], [0.32, 3.9, 6.3, 8.5, 20.9], [0.30, 1.0, 6.5, 13.8, 15.6, 20.5], [0.28, 7.5, 20.5],
  [0.26, 0.0, 1.4, 3.5], [0.24, 0.6, 5.2, 12.3, 13.7, 22.7], [0.22, 0.0, 2.1, 5.5, 12.8, 19.1],
  [0.20, 0.4, 2.4, 3.8, 6.6, 10.3, 12.4, 15.8], [0.18, 0.0, 5.6, 9.7, 11.6, 16.5, 19.3, 26.9], [0.16, 0.0, 3.2, 5.3, 10.3, 12.8],
  [0.14, 0.3, 1.3, 1.9, 3.0, 21.7], [0.12, 1.3, 2.9, 7.8, 13.0], [0.10, 0.0, 0.5, 2.4, 3.2, 4.4, 6.3, 9.2, 19.0, 20.9],
  [0.08, 0.1, 1.4, 2.8, 4.9, 8.0, 10.6, 15.9, 18.0, 29.6], [0.06, 0.0, 0.6, 1.5, 3.7, 6.3, 10.0, 14.5, 17.0, 20.8],
  [0.04, 0.1, 0.6, 1.4, 3.2, 5.0, 6.6, 9.9, 14.2, 16.9, 25.7], [0.02, 0.3, 1.0, 2.2, 4.7, 7.6, 10.0, 12.8, 16.0, 18.2, 20.5, 29.6],
  [0.0, 0, 0.5, 1, 1.5, 2, 2.6, 3.2, 3.8, 4.5, 5.2, 6, 6.8, 7.6, 8.5, 9.4, 10.3, 11.3, 12.3, 13.3, 14.4, 15.5, 16.7, 18, 19.3, 20.6, 22, 23.5, 25, 26.8, 28.3, 29.6, 32.0, 36.4, 45.8, 62.8]
];

const tasks = ['push', 'hammer', 'sweep', 'coffee', 'stick', 'reach', 'hand'];
const blueRows = [pushBlue, hammerBlue, sweepBlue, coffeeBlue, stickBlue, reachBlue, handBlue];
const orangeRows = [pushOrange, hammerOrange, sweepOrange, coffeeOrange, stickOrange, reachOrange, handOrange];
const titles = ['push', 'hammer', 'sweep', 'coffee', 'stick', 'reach', 'hand', 'ALL'];
const corrC = ['-0.0', '-0.27', '-0.11', '-0.05', '-0.12', '0.09', '-0.03', '0.05'];
const corrP = ['0.91', '0.0', '0.0', '0.103', '0.0', '0.001', '0.212', '0.0'];
const beta = ['-0.0', '-0.01', '-0.01', '0.0', '-0.0', '0.01', '-0.0', '0.01'];
const rsq = ['0.0', '0.04', '0.0', '-0.0', '0.01', '0.03', '0.0', '0.01'];
const seVal = ['0.001', '0.002', '0.002', '0.001', '0.001', '0.001', '0.001', '0.001'];
const slopeP = ['0.0', '0.0', '0.0', '1.0', '0.0', '0.0', '0.0', '0.0'];
// fitted line: return at 0 dormant neurons and at the largest x
const regStart = [0.156, 0.627, 0.418, 0.123, 0.0745, 0.804, 0.296, 0.308];
const regEnd = [0.106, 0.246, 0.274, 0.137, -0.0205, 1.029, 0.188, 0.662];
const xTicks = [
  [0, 5, 10, 15, 20], [0, 5, 10, 15, 20, 25, 30], [0, 5, 10, 15, 20, 25], [0, 5, 10, 15, 20, 25],
  [0, 5, 10, 15, 20, 25, 30, 35], [0, 5, 10, 15, 20, 25, 30, 35], [0, 10, 20, 30, 40, 50, 60], [0, 10, 20, 30, 40, 50, 60]
];
const yTicksFull = [0, 0.2, 0.4, 0.6, 0.8, 1.0];
const yTicksShort = [0, 0.2, 0.4, 0.6, 0.8];
const yMax = [1.0, 1.0, 1.0, 0.96, 0.96, 1.0, 1.0, 1.0];

const blueCol = 'rgba(1,115,178,0.5)';
const orangeCol = 'rgba(222,143,5,0.5)';
const taskCol = ['rgba(1,115,178,0.5)', 'rgba(222,143,5,0.5)', 'rgba(2,158,115,0.5)', 'rgba(213,94,0,0.5)',
                 'rgba(204,120,188,0.5)', 'rgba(202,145,97,0.5)', 'rgba(251,175,228,0.5)'];
const lineCol = '#1f6fb2';

Chart.defaults.font.family = "'DejaVu Sans', sans-serif";
Chart.defaults.color = '#000';

function pts(rows) {
  return rows.flatMap(r => r.slice(1).map(x => ({ x: x, y: r[0] })));
}

const frame = {
  id: 'frame',
  afterDatasetsDraw(chart) {
    const a = chart.chartArea, c = chart.ctx;
    c.save();
    c.strokeStyle = '#333';
    c.lineWidth = 1.3;
    c.strokeRect(a.left, a.top, a.right - a.left, a.bottom - a.top);
    c.restore();
  }
};

const fig = document.getElementById('fig');
const cellW = 899, cellH = 716, rowStep = 715;
const axL = 90, axR = 890, axT = 69;

function scatterSet(data, color, order) {
  return { type: 'scatter', data: data, backgroundColor: color, borderColor: 'rgba(255,255,255,0.5)',
           borderWidth: 0.8, pointRadius: 5.2, pointHoverRadius: 5.2, order: order };
}

for (let i = 0; i < 8; i++) {
  const col = i % 4, row = Math.floor(i / 4);
  const sets = [];
  let xMax;
  if (i < 7) {
    const b = pts(blueRows[i]), o = pts(orangeRows[i]);
    sets.push(scatterSet(b, blueCol, 2), scatterSet(o, orangeCol, 1));
    xMax = Math.max(...b.concat(o).map(p => p.x));
  } else {
    let all = [];
    for (let k = 0; k < 7; k++) {
      const d = pts(blueRows[k]).concat(pts(orangeRows[k]));
      all = all.concat(d);
      sets.push(scatterSet(d, taskCol[k], 7 - k));
    }
    xMax = Math.max(...all.map(p => p.x));
  }
  sets.push({ type: 'line', data: [{ x: 0, y: regStart[i] }, { x: xMax, y: regEnd[i] }],
              borderColor: lineCol, borderWidth: 4.5, pointRadius: 0, fill: false, order: 0 });

  const cv = document.createElement('canvas');
  cv.width = cellW; cv.height = cellH;
  cv.style.left = (col * cellW) + 'px';
  cv.style.top = (row * rowStep) + 'px';
  cv.style.width = cellW + 'px'; cv.style.height = cellH + 'px';
  fig.appendChild(cv);

  const xt = xTicks[i];
  const yt = yMax[i] < 1 ? yTicksShort : yTicksFull;
  new Chart(cv, {
    type: 'scatter',
    data: { datasets: sets },
    options: {
      responsive: false, animation: false, devicePixelRatio: 1,
      layout: { padding: { left: 0, right: cellW - axR, top: 0, bottom: 0 } },
      plugins: {
        legend: { display: false }, tooltip: { enabled: false },
        title: { display: true, fullSize: false, text: [titles[i], 'c=' + corrC[i] + ', p=' + corrP[i]],
                 font: { size: 29, weight: 'bold', lineHeight: 1.15 }, color: '#000', padding: { top: 2.5, bottom: 0 } }
      },
      scales: {
        x: {
          type: 'linear', min: -0.05 * xMax, max: 1.05 * xMax,
          afterFit: s => { s.height = cellH - 643; },
          afterBuildTicks: s => { s.ticks = xt.map(v => ({ value: v })); },
          ticks: { font: { size: 28 }, color: '#000', padding: 2, autoSkip: false, maxRotation: 0, callback: v => String(v) },
          grid: { display: true, drawOnChartArea: false, drawTicks: true, tickLength: 5, color: '#333', lineWidth: 1.3 },
          border: { display: true, color: '#333', width: 1.3 },
          title: { display: true, text: 'Dormant Neurons', font: { size: 28, lineHeight: 1.2 }, color: '#000', padding: { top: 0, bottom: 4 } }
        },
        y: {
          type: 'linear', min: 0, max: yMax[i],
          afterFit: s => { s.width = axL; },
          afterBuildTicks: s => { s.ticks = yt.map(v => ({ value: v })); },
          ticks: { font: { size: 28 }, color: '#000', padding: 3, autoSkip: false, callback: v => v.toFixed(1) },
          grid: { display: true, drawOnChartArea: false, drawTicks: true, tickLength: 5, color: '#333', lineWidth: 1.3 },
          border: { display: true, color: '#333', width: 1.3 },
          title: { display: true, text: 'Return', font: { size: 28, lineHeight: 1.2 }, color: '#000', padding: { top: 4, bottom: 0 } }
        }
      }
    },
    plugins: [frame]
  });

  const pageRight = col * cellW + axR;
  const pageTop = row * rowStep + axT;
  const stat = '<i>β</i>=' + beta[i] + ', <i>R</i><sup>2</sup>=' + rsq[i] + '<br><i>se</i>=' + seVal[i] + ', p=' + slopeP[i];
  if (i < 7) {
    const lg = document.createElement('div');
    lg.className = 'lg';
    lg.style.right = (3592 - (pageRight - 12)) + 'px';
    lg.style.top = (pageTop + 12) + 'px';
    lg.innerHTML = '<div class="sw"></div><div>' + stat + '</div>';
    fig.appendChild(lg);
  } else {
    const lg = document.createElement('div');
    lg.className = 'all';
    lg.style.left = (pageRight - 299) + 'px';
    lg.style.top = (pageTop + 2) + 'px';
    let h = '';
    for (let k = 0; k < 7; k++) {
      h += '<div class="it"><div class="hd"><div class="dot" style="background:' + taskCol[k] + '"></div></div>' + tasks[k] + '</div>';
    }
    h += '<div class="st"><div class="hd"><div class="sw" style="margin:0"></div></div><div>' + stat + '</div></div>';
    lg.innerHTML = h;
    fig.appendChild(lg);
  }
}
</script>
</body>
</html>
